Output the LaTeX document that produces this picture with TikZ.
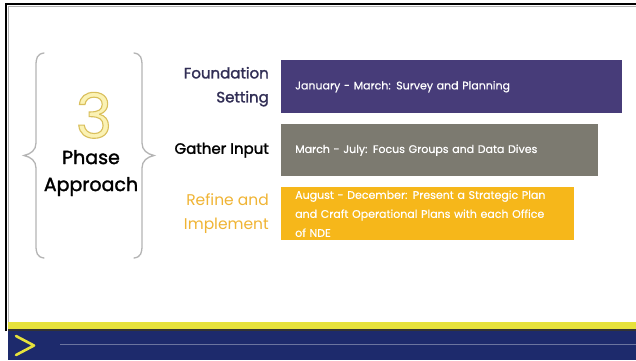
\documentclass[tikz,border=0pt]{standalone}
\usepackage{fontspec}
\setmainfont{Poppins}
\newfontfamily\heavyfont{Poppins}[FakeBold=1.6]
\newfontfamily\barfont{Poppins}[FakeBold=0.5]
\begin{document}
\definecolor{barpurple}{HTML}{473C79}
\definecolor{bargray}{HTML}{7C7A70}
\definecolor{baryellow}{HTML}{F6B71A}
\definecolor{labpurple}{HTML}{312E55}
\definecolor{labyellow}{HTML}{F0B434}
\definecolor{bracegray}{HTML}{B4B4B4}
\definecolor{navy}{HTML}{1D2A6C}
\definecolor{stripyellow}{HTML}{E6E23C}
\definecolor{threefill}{HTML}{FBF2B4}
\tikzset{
  bar/.style={rectangle, anchor=north west, inner xsep=14pt, inner ysep=0pt,
    text=white, font=\barfont\fontsize{11}{19}\selectfont, align=left},
  phaselabel/.style={anchor=east, align=right, inner sep=0pt,
    font=\heavyfont\fontsize{15}{24}\selectfont},
  bracket/.style={draw=bracegray, line width=1.3pt, line cap=round}
}
\begin{tikzpicture}[x=1pt,y=-1pt]
\useasboundingbox (0,0) rectangle (636,360);
\fill[white] (0,0) rectangle (636,360);

% slide frame
\draw[black, line width=1.6pt] (6,331) -- (6,4) -- (636,4);
\draw[gray!60, line width=0.5pt] (8.5,331) -- (8.5,6.5) -- (636,6.5);

% footer band
\fill[stripyellow] (8,322) rectangle (636,329);
\fill[black!80] (8,329) rectangle (636,331);
\fill[navy] (8,331) rectangle (636,360);
\draw[white, opacity=0.35, line width=0.8pt] (60,344) -- (636,344);
\draw[stripyellow, line width=2.6pt, line cap=round, line join=round]
  (16,336) -- (34,345.5) -- (16,355);

% braces
\draw[bracket] (44,53) .. controls (37,54) and (36,58) .. (36,66)
  -- (36,143) .. controls (36,150) and (31,154) .. (24,155.5)
  .. controls (31,157) and (36,161) .. (36,168)
  -- (36,245) .. controls (36,253) and (37,257) .. (44,258);
\draw[bracket] (134,53) .. controls (141,54) and (142,58) .. (142,66)
  -- (142,143) .. controls (142,150) and (147,154) .. (154,155.5)
  .. controls (147,157) and (142,161) .. (142,168)
  -- (142,245) .. controls (142,253) and (141,257) .. (134,258);

% outlined numeral (fill + stroke text rendering) and title
\node[inner sep=0pt, text height=44pt, text depth=0pt,
  font=\fontsize{62}{62}\selectfont] (three) at (94,116)
  {\color{threefill}\special{pdf:literal direct 2 Tr 1.1 w 0.85 0.75 0.36 RG}3\special{pdf:literal direct 0 Tr}};
\node[inner sep=0pt, font=\heavyfont\fontsize{19}{27}\selectfont, align=center,
  text=black] (title) at (91,173) {Phase\\Approach};

% phase bars
\node[bar, fill=barpurple, minimum width=341pt, minimum height=53pt,
  text width=313pt] (b1) at (281,60) {January - March: Survey and Planning};
\node[bar, fill=bargray, minimum width=317pt, minimum height=52pt,
  text width=289pt] (b2) at (281,124) {March - July: Focus Groups and Data Dives};
\node[bar, fill=baryellow, minimum width=293pt, minimum height=53pt,
  text width=265pt] (b3) at (281,187)
  {August - December: Present a Strategic Plan\\and Craft Operational Plans with each Office\\of NDE};

% phase labels
\node[phaselabel, text=labpurple] (l1) at ([xshift=-12pt]b1.west) {Foundation\\Setting};
\node[phaselabel, text=black] (l2) at ([xshift=-12pt]b2.west) {Gather Input};
\node[phaselabel, text=labyellow, font=\fontsize{15.5}{24}\selectfont]
  (l3) at ([xshift=-12pt]b3.west) {Refine and\\Implement};
\end{tikzpicture}
\end{document}
